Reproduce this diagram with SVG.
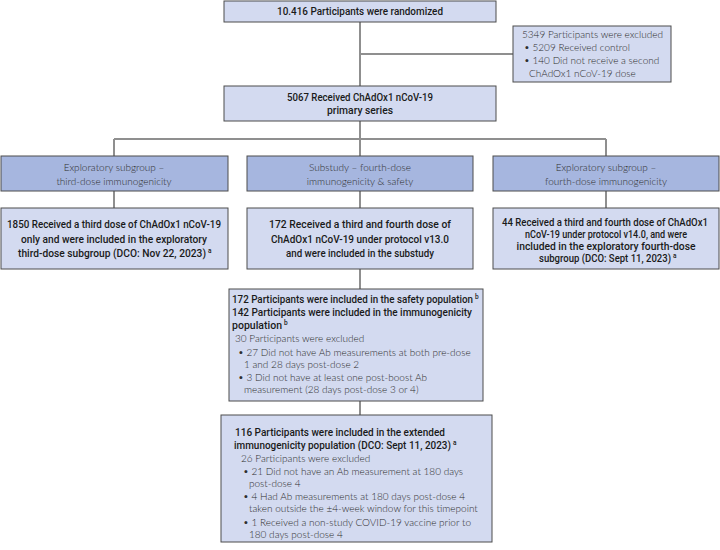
<svg xmlns="http://www.w3.org/2000/svg" width="720" height="550" viewBox="0 0 720 550">
<style>
.lt{fill:#d3daf0;stroke:#4d4d4d;stroke-width:1}
.hd{fill:#a6b6df;stroke:#4d4d4d;stroke-width:1}
.b{font-family:Roboto,"Liberation Sans",sans-serif;font-weight:500;font-size:11px;fill:#1a1a1a}
.c{text-anchor:middle}
.l{font-family:Lato,"Open Sans",sans-serif;font-weight:300;font-size:10px;fill:#2e2e2e}
.s{font-family:Roboto,"Liberation Sans",sans-serif;font-weight:500;font-size:6.5px;fill:#1a1a1a}
.con{stroke:#8f8f8f;stroke-width:2;fill:none}
</style>
<rect width="720" height="550" fill="#fff"/>
<g id="connectors">
<path class="con" d="M360,22V86M360,54H513M360,121V139M114,139H606M114,139V156M360,139V156M606,139V156M114,191V208M360,191V208M606,191V208M360,269V289M360,401V415"/>
</g>
<g id="randomized">
<rect class="lt" x="224" y="1" width="272" height="21"/>
<text class="b c" x="360" y="15" textLength="166" lengthAdjust="spacingAndGlyphs">10.416 Participants were randomized</text>
</g>
<g id="excluded1">
<rect class="lt" x="513" y="26" width="158" height="56"/>
<text class="l" x="522" y="38">5349 Participants were excluded</text>
<text class="l" x="524" y="51">• 5209 Received control</text>
<text class="l" x="524" y="64">• 140 Did not receive a second</text>
<text class="l" x="529" y="77">ChAdOx1 nCoV-19 dose</text>
</g>
<g id="primary">
<rect class="lt" x="224" y="86" width="272" height="35"/>
<text class="b c" x="360" y="101" textLength="146" lengthAdjust="spacingAndGlyphs">5067 Received ChAdOx1 nCoV-19</text>
<text class="b c" x="360" y="114" textLength="66" lengthAdjust="spacingAndGlyphs">primary series</text>
</g>
<g id="header-left">
<rect class="hd" x="1" y="156" width="227" height="35"/>
<text class="l c" x="114" y="171">Exploratory subgroup –</text>
<text class="l c" x="114" y="185">third-dose immunogenicity</text>
</g>
<g id="header-mid">
<rect class="hd" x="247" y="156" width="226" height="35"/>
<text class="l c" x="360" y="171">Substudy – fourth-dose</text>
<text class="l c" x="360" y="185">immunogenicity &amp; safety</text>
</g>
<g id="header-right">
<rect class="hd" x="493" y="156" width="226" height="35"/>
<text class="l c" x="606" y="171">Exploratory subgroup –</text>
<text class="l c" x="606" y="185">fourth-dose immunogenicity</text>
</g>
<g id="detail-left">
<rect class="lt" x="1" y="208" width="227" height="61"/>
<text class="b c" x="114" y="228" textLength="214" lengthAdjust="spacingAndGlyphs">1850 Received a third dose of ChAdOx1 nCoV-19</text>
<text class="b c" x="114" y="243" textLength="186" lengthAdjust="spacingAndGlyphs">only and were included in the exploratory</text>
<text class="b c" x="112" y="257" textLength="188" lengthAdjust="spacingAndGlyphs">third-dose subgroup (DCO: Nov 22, 2023)</text>
<text class="s" x="208" y="253">a</text>
</g>
<g id="detail-mid">
<rect class="lt" x="247" y="208" width="226" height="61"/>
<text class="b c" x="360" y="228" textLength="182" lengthAdjust="spacingAndGlyphs">172 Received a third and fourth dose of</text>
<text class="b c" x="360" y="243" textLength="178" lengthAdjust="spacingAndGlyphs">ChAdOx1 nCoV-19 under protocol v13.0</text>
<text class="b c" x="360" y="257" textLength="148" lengthAdjust="spacingAndGlyphs">and were included in the substudy</text>
</g>
<g id="detail-right">
<rect class="lt" x="493" y="208" width="226" height="61"/>
<text class="b c" x="605" y="226" textLength="206" lengthAdjust="spacingAndGlyphs">44 Received a third and fourth dose of ChAdOx1</text>
<text class="b c" x="606" y="238" textLength="162" lengthAdjust="spacingAndGlyphs">nCoV-19 under protocol v14.0, and were</text>
<text class="b c" x="606" y="250" textLength="179" lengthAdjust="spacingAndGlyphs">included in the exploratory fourth-dose</text>
<text class="b c" x="605" y="262" textLength="132" lengthAdjust="spacingAndGlyphs">subgroup (DCO: Sept 11, 2023)</text>
<text class="s" x="673" y="258">a</text>
</g>
<g id="population">
<rect class="lt" x="229" y="289" width="254" height="112"/>
<text class="b" x="232" y="303" textLength="241" lengthAdjust="spacingAndGlyphs">172 Participants were included in the safety population</text>
<text class="s" x="475" y="299">b</text>
<text class="b" x="232" y="316" textLength="240" lengthAdjust="spacingAndGlyphs">142 Participants were included in the immunogenicity</text>
<text class="b" x="232" y="329" textLength="50" lengthAdjust="spacingAndGlyphs">population</text>
<text class="s" x="284" y="325">b</text>
<text class="l" x="235" y="342">30 Participants were excluded</text>
<text class="l" x="238" y="356">• 27 Did not have Ab measurements at both pre-dose</text>
<text class="l" x="244" y="368">1 and 28 days post-dose 2</text>
<text class="l" x="238" y="381">• 3 Did not have at least one post-boost Ab</text>
<text class="l" x="244" y="393">measurement (28 days post-dose 3 or 4)</text>
</g>
<g id="extended">
<rect class="lt" x="221" y="415" width="271" height="127"/>
<text class="b" x="235" y="436" textLength="210" lengthAdjust="spacingAndGlyphs">116 Participants were included in the extended</text>
<text class="b" x="234" y="449" textLength="217" lengthAdjust="spacingAndGlyphs">immunogenicity population (DCO: Sept 11, 2023)</text>
<text class="s" x="453" y="445">a</text>
<text class="l" x="241" y="462">26 Participants were excluded</text>
<text class="l" x="243" y="475">• 21 Did not have an Ab measurement at 180 days</text>
<text class="l" x="249" y="487">post-dose 4</text>
<text class="l" x="243" y="500">• 4 Had Ab measurements at 180 days post-dose 4</text>
<text class="l" x="249" y="512">taken outside the ±4-week window for this timepoint</text>
<text class="l" x="243" y="526">• 1 Received a non-study COVID-19 vaccine prior to</text>
<text class="l" x="249" y="538">180 days post-dose 4</text>
</g>
</svg>
